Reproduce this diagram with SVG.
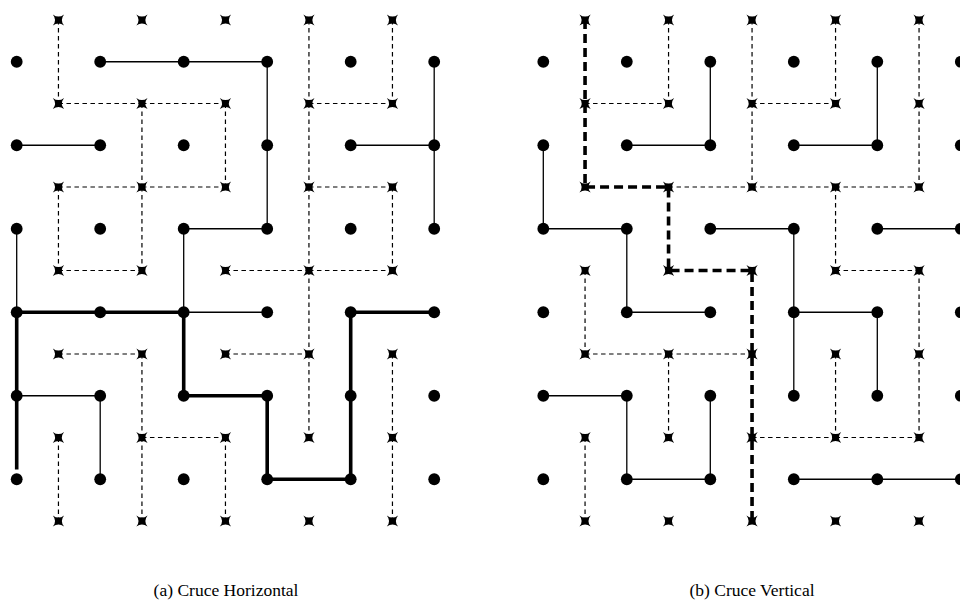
<svg xmlns="http://www.w3.org/2000/svg" xmlns:xlink="http://www.w3.org/1999/xlink" width="960" height="612" viewBox="0 0 960 612">
  <style>
    .thin { stroke: #000; stroke-width: 1.3; fill: none; }
    .dash { stroke: #000; stroke-width: 1.2; fill: none; stroke-dasharray: 4.5 3.5; }
    .thick { stroke: #000; stroke-width: 3.6; fill: none; stroke-linejoin: miter; }
    .thickdash { stroke: #000; stroke-width: 3.6; fill: none; stroke-dasharray: 9 5; }
    .caption { font-family: "Liberation Serif", "DejaVu Serif", serif; font-size: 17.5px; fill: #000; text-anchor: middle; }
  </style>
  <defs>
    <circle id="dot" r="5.9" fill="#000"/>
    <path id="star" fill="#000" d="M-5.6,-5.6 Q0,-1.2 5.6,-5.6 Q1.2,0 5.6,5.6 Q0,1.2 -5.6,5.6 Q-1.2,0 -5.6,-5.6Z"/>
  </defs>
  <rect width="960" height="612" fill="#fff"/>

  <!-- Panel (a): horizontal crossing -->
  <g id="panel-a" transform="translate(16.7,20)">
    <g id="a-connectors">
      <!-- dashed lattice between the x-marks -->
      <line class="dash" x1="41.75" y1="83.5" x2="125.25" y2="83.5"/>
      <line class="dash" x1="125.25" y1="83.5" x2="208.75" y2="83.5"/>
      <line class="dash" x1="292.25" y1="83.5" x2="375.75" y2="83.5"/>
      <line class="dash" x1="41.75" y1="167" x2="125.25" y2="167"/>
      <line class="dash" x1="125.25" y1="167" x2="208.75" y2="167"/>
      <line class="dash" x1="292.25" y1="167" x2="375.75" y2="167"/>
      <line class="dash" x1="41.75" y1="250.5" x2="125.25" y2="250.5"/>
      <line class="dash" x1="208.75" y1="250.5" x2="292.25" y2="250.5"/>
      <line class="dash" x1="292.25" y1="250.5" x2="375.75" y2="250.5"/>
      <line class="dash" x1="41.75" y1="334" x2="125.25" y2="334"/>
      <line class="dash" x1="208.75" y1="334" x2="292.25" y2="334"/>
      <line class="dash" x1="125.25" y1="417.5" x2="208.75" y2="417.5"/>
      <line class="dash" x1="41.75" y1="0" x2="41.75" y2="83.5"/>
      <line class="dash" x1="292.25" y1="0" x2="292.25" y2="83.5"/>
      <line class="dash" x1="375.75" y1="0" x2="375.75" y2="83.5"/>
      <line class="dash" x1="125.25" y1="83.5" x2="125.25" y2="167"/>
      <line class="dash" x1="208.75" y1="83.5" x2="208.75" y2="167"/>
      <line class="dash" x1="292.25" y1="83.5" x2="292.25" y2="167"/>
      <line class="dash" x1="41.75" y1="167" x2="41.75" y2="250.5"/>
      <line class="dash" x1="125.25" y1="167" x2="125.25" y2="250.5"/>
      <line class="dash" x1="292.25" y1="167" x2="292.25" y2="250.5"/>
      <line class="dash" x1="375.75" y1="167" x2="375.75" y2="250.5"/>
      <line class="dash" x1="292.25" y1="250.5" x2="292.25" y2="334"/>
      <line class="dash" x1="125.25" y1="334" x2="125.25" y2="417.5"/>
      <line class="dash" x1="125.25" y1="417.5" x2="125.25" y2="501"/>
      <line class="dash" x1="292.25" y1="334" x2="292.25" y2="417.5"/>
      <line class="dash" x1="375.75" y1="334" x2="375.75" y2="417.5"/>
      <line class="dash" x1="375.75" y1="417.5" x2="375.75" y2="501"/>
      <line class="dash" x1="208.75" y1="417.5" x2="208.75" y2="501"/>
      <line class="dash" x1="41.75" y1="417.5" x2="41.75" y2="501"/>
      <!-- solid lattice between the dots -->
      <line class="thin" x1="83.5" y1="41.75" x2="167" y2="41.75"/>
      <line class="thin" x1="167" y1="41.75" x2="250.5" y2="41.75"/>
      <line class="thin" x1="250.5" y1="41.75" x2="250.5" y2="125.25"/>
      <line class="thin" x1="250.5" y1="125.25" x2="250.5" y2="208.75"/>
      <line class="thin" x1="417.5" y1="41.75" x2="417.5" y2="125.25"/>
      <line class="thin" x1="417.5" y1="125.25" x2="417.5" y2="208.75"/>
      <line class="thin" x1="0" y1="125.25" x2="83.5" y2="125.25"/>
      <line class="thin" x1="334" y1="125.25" x2="417.5" y2="125.25"/>
      <line class="thin" x1="0" y1="208.75" x2="0" y2="292.25"/>
      <line class="thin" x1="167" y1="208.75" x2="250.5" y2="208.75"/>
      <line class="thin" x1="167" y1="208.75" x2="167" y2="292.25"/>
      <line class="thin" x1="167" y1="292.25" x2="250.5" y2="292.25"/>
      <line class="thin" x1="0" y1="375.75" x2="83.5" y2="375.75"/>
      <line class="thin" x1="83.5" y1="375.75" x2="83.5" y2="459.25"/>
      <!-- crossing path -->
      <path class="thick" d="M0,449.5 V292.25 H167 V375.75 H250.5 V459.25 H334 V292.25 H417.5"/>
    </g>
    <g id="a-marks">
      <g id="a-x00"><use href="#star" x="41.75" y="0"/></g>
      <g id="a-x10"><use href="#star" x="125.25" y="0"/></g>
      <g id="a-x20"><use href="#star" x="208.75" y="0"/></g>
      <g id="a-x30"><use href="#star" x="292.25" y="0"/></g>
      <g id="a-x40"><use href="#star" x="375.75" y="0"/></g>
      <g id="a-x01"><use href="#star" x="41.75" y="83.5"/></g>
      <g id="a-x11"><use href="#star" x="125.25" y="83.5"/></g>
      <g id="a-x21"><use href="#star" x="208.75" y="83.5"/></g>
      <g id="a-x31"><use href="#star" x="292.25" y="83.5"/></g>
      <g id="a-x41"><use href="#star" x="375.75" y="83.5"/></g>
      <g id="a-x02"><use href="#star" x="41.75" y="167"/></g>
      <g id="a-x12"><use href="#star" x="125.25" y="167"/></g>
      <g id="a-x22"><use href="#star" x="208.75" y="167"/></g>
      <g id="a-x32"><use href="#star" x="292.25" y="167"/></g>
      <g id="a-x42"><use href="#star" x="375.75" y="167"/></g>
      <g id="a-x03"><use href="#star" x="41.75" y="250.5"/></g>
      <g id="a-x13"><use href="#star" x="125.25" y="250.5"/></g>
      <g id="a-x23"><use href="#star" x="208.75" y="250.5"/></g>
      <g id="a-x33"><use href="#star" x="292.25" y="250.5"/></g>
      <g id="a-x43"><use href="#star" x="375.75" y="250.5"/></g>
      <g id="a-x04"><use href="#star" x="41.75" y="334"/></g>
      <g id="a-x14"><use href="#star" x="125.25" y="334"/></g>
      <g id="a-x24"><use href="#star" x="208.75" y="334"/></g>
      <g id="a-x34"><use href="#star" x="292.25" y="334"/></g>
      <g id="a-x44"><use href="#star" x="375.75" y="334"/></g>
      <g id="a-x05"><use href="#star" x="41.75" y="417.5"/></g>
      <g id="a-x15"><use href="#star" x="125.25" y="417.5"/></g>
      <g id="a-x25"><use href="#star" x="208.75" y="417.5"/></g>
      <g id="a-x35"><use href="#star" x="292.25" y="417.5"/></g>
      <g id="a-x45"><use href="#star" x="375.75" y="417.5"/></g>
      <g id="a-x06"><use href="#star" x="41.75" y="501"/></g>
      <g id="a-x16"><use href="#star" x="125.25" y="501"/></g>
      <g id="a-x26"><use href="#star" x="208.75" y="501"/></g>
      <g id="a-x36"><use href="#star" x="292.25" y="501"/></g>
      <g id="a-x46"><use href="#star" x="375.75" y="501"/></g>
    </g>
    <g id="a-dots">
      <g id="a-d00"><use href="#dot" x="0" y="41.75"/></g>
      <g id="a-d10"><use href="#dot" x="83.5" y="41.75"/></g>
      <g id="a-d20"><use href="#dot" x="167" y="41.75"/></g>
      <g id="a-d30"><use href="#dot" x="250.5" y="41.75"/></g>
      <g id="a-d40"><use href="#dot" x="334" y="41.75"/></g>
      <g id="a-d50"><use href="#dot" x="417.5" y="41.75"/></g>
      <g id="a-d01"><use href="#dot" x="0" y="125.25"/></g>
      <g id="a-d11"><use href="#dot" x="83.5" y="125.25"/></g>
      <g id="a-d21"><use href="#dot" x="167" y="125.25"/></g>
      <g id="a-d31"><use href="#dot" x="250.5" y="125.25"/></g>
      <g id="a-d41"><use href="#dot" x="334" y="125.25"/></g>
      <g id="a-d51"><use href="#dot" x="417.5" y="125.25"/></g>
      <g id="a-d02"><use href="#dot" x="0" y="208.75"/></g>
      <g id="a-d12"><use href="#dot" x="83.5" y="208.75"/></g>
      <g id="a-d22"><use href="#dot" x="167" y="208.75"/></g>
      <g id="a-d32"><use href="#dot" x="250.5" y="208.75"/></g>
      <g id="a-d42"><use href="#dot" x="334" y="208.75"/></g>
      <g id="a-d52"><use href="#dot" x="417.5" y="208.75"/></g>
      <g id="a-d03"><use href="#dot" x="0" y="292.25"/></g>
      <g id="a-d13"><use href="#dot" x="83.5" y="292.25"/></g>
      <g id="a-d23"><use href="#dot" x="167" y="292.25"/></g>
      <g id="a-d33"><use href="#dot" x="250.5" y="292.25"/></g>
      <g id="a-d43"><use href="#dot" x="334" y="292.25"/></g>
      <g id="a-d53"><use href="#dot" x="417.5" y="292.25"/></g>
      <g id="a-d04"><use href="#dot" x="0" y="375.75"/></g>
      <g id="a-d14"><use href="#dot" x="83.5" y="375.75"/></g>
      <g id="a-d24"><use href="#dot" x="167" y="375.75"/></g>
      <g id="a-d34"><use href="#dot" x="250.5" y="375.75"/></g>
      <g id="a-d44"><use href="#dot" x="334" y="375.75"/></g>
      <g id="a-d54"><use href="#dot" x="417.5" y="375.75"/></g>
      <g id="a-d05"><use href="#dot" x="0" y="459.25"/></g>
      <g id="a-d15"><use href="#dot" x="83.5" y="459.25"/></g>
      <g id="a-d25"><use href="#dot" x="167" y="459.25"/></g>
      <g id="a-d35"><use href="#dot" x="250.5" y="459.25"/></g>
      <g id="a-d45"><use href="#dot" x="334" y="459.25"/></g>
      <g id="a-d55"><use href="#dot" x="417.5" y="459.25"/></g>
    </g>
  </g>

  <!-- Panel (b): vertical crossing -->
  <g id="panel-b" transform="translate(543.3,20)">
    <g id="b-connectors">
      <!-- dashed lattice between the x-marks -->
      <line class="dash" x1="41.75" y1="83.5" x2="125.25" y2="83.5"/>
      <line class="dash" x1="208.75" y1="83.5" x2="292.25" y2="83.5"/>
      <line class="dash" x1="125.25" y1="167" x2="208.75" y2="167"/>
      <line class="dash" x1="208.75" y1="167" x2="292.25" y2="167"/>
      <line class="dash" x1="292.25" y1="167" x2="375.75" y2="167"/>
      <line class="dash" x1="292.25" y1="250.5" x2="375.75" y2="250.5"/>
      <line class="dash" x1="41.75" y1="334" x2="125.25" y2="334"/>
      <line class="dash" x1="125.25" y1="334" x2="208.75" y2="334"/>
      <line class="dash" x1="208.75" y1="417.5" x2="292.25" y2="417.5"/>
      <line class="dash" x1="292.25" y1="417.5" x2="375.75" y2="417.5"/>
      <line class="dash" x1="125.25" y1="0" x2="125.25" y2="83.5"/>
      <line class="dash" x1="208.75" y1="0" x2="208.75" y2="83.5"/>
      <line class="dash" x1="208.75" y1="83.5" x2="208.75" y2="167"/>
      <line class="dash" x1="292.25" y1="0" x2="292.25" y2="83.5"/>
      <line class="dash" x1="375.75" y1="0" x2="375.75" y2="83.5"/>
      <line class="dash" x1="375.75" y1="83.5" x2="375.75" y2="167"/>
      <line class="dash" x1="292.25" y1="167" x2="292.25" y2="250.5"/>
      <line class="dash" x1="375.75" y1="250.5" x2="375.75" y2="334"/>
      <line class="dash" x1="41.75" y1="250.5" x2="41.75" y2="334"/>
      <line class="dash" x1="125.25" y1="334" x2="125.25" y2="417.5"/>
      <line class="dash" x1="41.75" y1="417.5" x2="41.75" y2="501"/>
      <line class="dash" x1="292.25" y1="334" x2="292.25" y2="417.5"/>
      <line class="dash" x1="375.75" y1="334" x2="375.75" y2="417.5"/>
      <!-- solid lattice between the dots -->
      <line class="thin" x1="167" y1="41.75" x2="167" y2="125.25"/>
      <line class="thin" x1="83.5" y1="125.25" x2="167" y2="125.25"/>
      <line class="thin" x1="0" y1="125.25" x2="0" y2="208.75"/>
      <line class="thin" x1="0" y1="208.75" x2="83.5" y2="208.75"/>
      <line class="thin" x1="83.5" y1="208.75" x2="83.5" y2="292.25"/>
      <line class="thin" x1="83.5" y1="292.25" x2="167" y2="292.25"/>
      <line class="thin" x1="334" y1="41.75" x2="334" y2="125.25"/>
      <line class="thin" x1="250.5" y1="125.25" x2="334" y2="125.25"/>
      <line class="thin" x1="167" y1="208.75" x2="250.5" y2="208.75"/>
      <line class="thin" x1="250.5" y1="208.75" x2="250.5" y2="292.25"/>
      <line class="thin" x1="250.5" y1="292.25" x2="250.5" y2="375.75"/>
      <line class="thin" x1="250.5" y1="292.25" x2="334" y2="292.25"/>
      <line class="thin" x1="334" y1="292.25" x2="334" y2="375.75"/>
      <line class="thin" x1="334" y1="208.75" x2="417.5" y2="208.75"/>
      <line class="thin" x1="0" y1="375.75" x2="83.5" y2="375.75"/>
      <line class="thin" x1="83.5" y1="375.75" x2="83.5" y2="459.25"/>
      <line class="thin" x1="83.5" y1="459.25" x2="167" y2="459.25"/>
      <line class="thin" x1="167" y1="375.75" x2="167" y2="459.25"/>
      <line class="thin" x1="250.5" y1="459.25" x2="334" y2="459.25"/>
      <line class="thin" x1="334" y1="459.25" x2="417.5" y2="459.25"/>
      <!-- crossing path -->
      <path class="thickdash" d="M41.75,0 V167 H125.25 V250.5 H208.75 V501"/>
    </g>
    <g id="b-marks">
      <g id="b-x00"><use href="#star" x="41.75" y="0"/></g>
      <g id="b-x10"><use href="#star" x="125.25" y="0"/></g>
      <g id="b-x20"><use href="#star" x="208.75" y="0"/></g>
      <g id="b-x30"><use href="#star" x="292.25" y="0"/></g>
      <g id="b-x40"><use href="#star" x="375.75" y="0"/></g>
      <g id="b-x01"><use href="#star" x="41.75" y="83.5"/></g>
      <g id="b-x11"><use href="#star" x="125.25" y="83.5"/></g>
      <g id="b-x21"><use href="#star" x="208.75" y="83.5"/></g>
      <g id="b-x31"><use href="#star" x="292.25" y="83.5"/></g>
      <g id="b-x41"><use href="#star" x="375.75" y="83.5"/></g>
      <g id="b-x02"><use href="#star" x="41.75" y="167"/></g>
      <g id="b-x12"><use href="#star" x="125.25" y="167"/></g>
      <g id="b-x22"><use href="#star" x="208.75" y="167"/></g>
      <g id="b-x32"><use href="#star" x="292.25" y="167"/></g>
      <g id="b-x42"><use href="#star" x="375.75" y="167"/></g>
      <g id="b-x03"><use href="#star" x="41.75" y="250.5"/></g>
      <g id="b-x13"><use href="#star" x="125.25" y="250.5"/></g>
      <g id="b-x23"><use href="#star" x="208.75" y="250.5"/></g>
      <g id="b-x33"><use href="#star" x="292.25" y="250.5"/></g>
      <g id="b-x43"><use href="#star" x="375.75" y="250.5"/></g>
      <g id="b-x04"><use href="#star" x="41.75" y="334"/></g>
      <g id="b-x14"><use href="#star" x="125.25" y="334"/></g>
      <g id="b-x24"><use href="#star" x="208.75" y="334"/></g>
      <g id="b-x34"><use href="#star" x="292.25" y="334"/></g>
      <g id="b-x44"><use href="#star" x="375.75" y="334"/></g>
      <g id="b-x05"><use href="#star" x="41.75" y="417.5"/></g>
      <g id="b-x15"><use href="#star" x="125.25" y="417.5"/></g>
      <g id="b-x25"><use href="#star" x="208.75" y="417.5"/></g>
      <g id="b-x35"><use href="#star" x="292.25" y="417.5"/></g>
      <g id="b-x45"><use href="#star" x="375.75" y="417.5"/></g>
      <g id="b-x06"><use href="#star" x="41.75" y="501"/></g>
      <g id="b-x16"><use href="#star" x="125.25" y="501"/></g>
      <g id="b-x26"><use href="#star" x="208.75" y="501"/></g>
      <g id="b-x36"><use href="#star" x="292.25" y="501"/></g>
      <g id="b-x46"><use href="#star" x="375.75" y="501"/></g>
    </g>
    <g id="b-dots">
      <g id="b-d00"><use href="#dot" x="0" y="41.75"/></g>
      <g id="b-d10"><use href="#dot" x="83.5" y="41.75"/></g>
      <g id="b-d20"><use href="#dot" x="167" y="41.75"/></g>
      <g id="b-d30"><use href="#dot" x="250.5" y="41.75"/></g>
      <g id="b-d40"><use href="#dot" x="334" y="41.75"/></g>
      <g id="b-d50"><use href="#dot" x="417.5" y="41.75"/></g>
      <g id="b-d01"><use href="#dot" x="0" y="125.25"/></g>
      <g id="b-d11"><use href="#dot" x="83.5" y="125.25"/></g>
      <g id="b-d21"><use href="#dot" x="167" y="125.25"/></g>
      <g id="b-d31"><use href="#dot" x="250.5" y="125.25"/></g>
      <g id="b-d41"><use href="#dot" x="334" y="125.25"/></g>
      <g id="b-d51"><use href="#dot" x="417.5" y="125.25"/></g>
      <g id="b-d02"><use href="#dot" x="0" y="208.75"/></g>
      <g id="b-d12"><use href="#dot" x="83.5" y="208.75"/></g>
      <g id="b-d22"><use href="#dot" x="167" y="208.75"/></g>
      <g id="b-d32"><use href="#dot" x="250.5" y="208.75"/></g>
      <g id="b-d42"><use href="#dot" x="334" y="208.75"/></g>
      <g id="b-d52"><use href="#dot" x="417.5" y="208.75"/></g>
      <g id="b-d03"><use href="#dot" x="0" y="292.25"/></g>
      <g id="b-d13"><use href="#dot" x="83.5" y="292.25"/></g>
      <g id="b-d23"><use href="#dot" x="167" y="292.25"/></g>
      <g id="b-d33"><use href="#dot" x="250.5" y="292.25"/></g>
      <g id="b-d43"><use href="#dot" x="334" y="292.25"/></g>
      <g id="b-d53"><use href="#dot" x="417.5" y="292.25"/></g>
      <g id="b-d04"><use href="#dot" x="0" y="375.75"/></g>
      <g id="b-d14"><use href="#dot" x="83.5" y="375.75"/></g>
      <g id="b-d24"><use href="#dot" x="167" y="375.75"/></g>
      <g id="b-d34"><use href="#dot" x="250.5" y="375.75"/></g>
      <g id="b-d44"><use href="#dot" x="334" y="375.75"/></g>
      <g id="b-d54"><use href="#dot" x="417.5" y="375.75"/></g>
      <g id="b-d05"><use href="#dot" x="0" y="459.25"/></g>
      <g id="b-d15"><use href="#dot" x="83.5" y="459.25"/></g>
      <g id="b-d25"><use href="#dot" x="167" y="459.25"/></g>
      <g id="b-d35"><use href="#dot" x="250.5" y="459.25"/></g>
      <g id="b-d45"><use href="#dot" x="334" y="459.25"/></g>
      <g id="b-d55"><use href="#dot" x="417.5" y="459.25"/></g>
    </g>
  </g>

  <text class="caption" x="226" y="596">(a)  Cruce Horizontal</text>
  <text class="caption" x="752" y="596">(b)  Cruce Vertical</text>
</svg>
